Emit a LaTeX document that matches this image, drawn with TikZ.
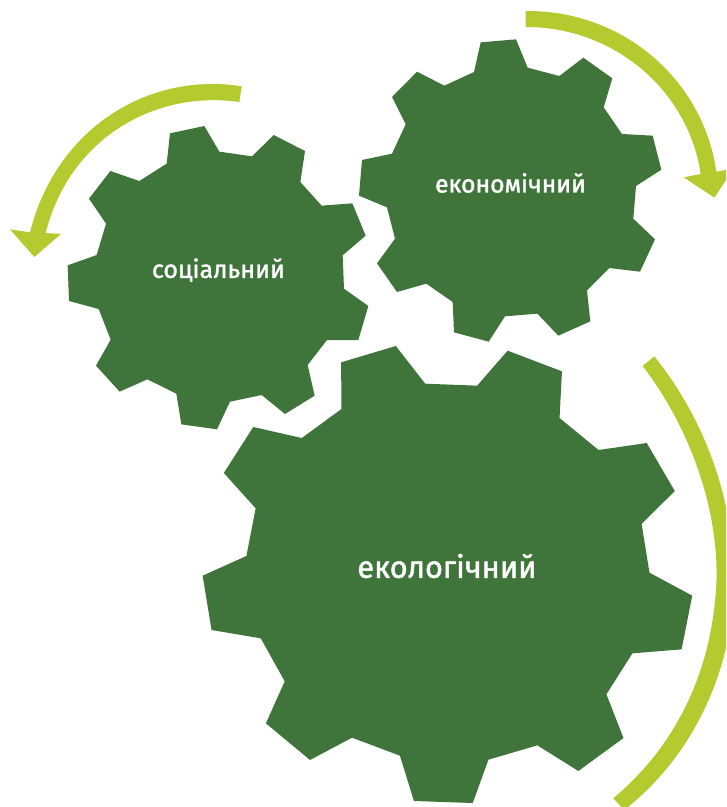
\documentclass[tikz,border=0pt]{standalone}
\usepackage{fontspec}
\setmainfont{Fira Sans}
\newfontfamily\gearfont{Fira Sans}[FakeBold=1.6]
\definecolor{gearg}{HTML}{3F743B}
\definecolor{arrowg}{HTML}{B4CA2E}
\tikzset{
  gear/.style={fill=gearg,draw=none},
  band/.style={fill=arrowg,draw=none},
  gearlabel/.style={text=white,inner sep=0pt,anchor=center}
}
\begin{document}
\begin{tikzpicture}[x=0.75pt,y=-0.75pt]
\useasboundingbox (0,0) rectangle (726,807);
\clip (0,0) rectangle (726,807);
% social gear
\begin{scope}[shift={(0,70)},x=0.25pt,y=-0.25pt]
\fill[gear] (510,190)--(613,168)--(658,245)--(756,259)--(821,195)--(915,243)--(901,336)--(965,407)--(1057,400)--(1097,497)--(1028,556)--(1032,656)--(1105,708)--(1075,810)--(981,810)--(923,885)--(944,977)--(855,1032)--(785,975)--(690,995)--(651,1078)--(544,1063)--(529,971)--(442,928)--(359,965)--(288,887)--(332,809)--(296,717)--(207,693)--(203,586)--(290,555)--(318,461)--(267,386)--(331,303)--(418,333)--(500,281)--cycle;
\fill[band] (725,49) .. controls (450,5) and (170,170) .. (90,487) -- (30,478) -- (103,561) -- (183,492) -- (137,489) .. controls (210,200) and (470,60) .. (718,96) -- cycle;
\end{scope}
% economic gear
\begin{scope}[shift={(350,0)},x=0.25pt,y=-0.25pt]
\fill[gear] (392,127)--(498,118)--(533,203)--(628,228)--(700,173)--(787,235)--(761,322)--(816,402)--(908,407)--(934,509)--(858,558)--(850,656)--(915,718)--(870,815)--(778,804)--(711,871)--(721,964)--(625,1007)--(562,941)--(465,949)--(416,1025)--(312,997)--(308,906)--(229,851)--(141,876)--(81,790)--(135,716)--(111,622)--(27,587)--(36,480)--(126,461)--(167,373)--(126,291)--(201,215)--(283,257)--(372,216)--cycle;
\fill[band] (527,33) .. controls (820,30) and (1060,240) .. (1099,515) -- (1128,510) -- (1128,540) -- (1093,593) -- (1001,532) -- (1052,522) .. controls (1015,270) and (790,80) .. (527,81) -- cycle;
\end{scope}
% ecological gear
\begin{scope}[shift={(190,340)},x=0.25641pt,y=-0.25pt]
\fill[gear] (442,67)--(602,18)--(688,131)--(840,137)--(929,32)--(1088,94)--(1081,234)--(1195,330)--(1336,309)--(1418,453)--(1321,552)--(1344,698)--(1469,767)--(1438,928)--(1294,940)--(1218,1063)--(1268,1194)--(1136,1293)--(1016,1216)--(873,1259)--(827,1389)--(655,1383)--(614,1247)--(474,1193)--(351,1260)--(222,1150)--(277,1024)--(207,895)--(63,870)--(37,707)--(165,648)--(192,505)--(99,399)--(185,261)--(327,294)--(443,207)--cycle;
\fill[band] (1358,49) .. controls (1500,230) and (1600,480) .. (1590,760) .. controls (1580,1000) and (1470,1250) .. (1270,1410) -- (1238,1375) .. controls (1430,1210) and (1530,980) .. (1540,720) .. controls (1545,500) and (1460,260) .. (1324,78) -- cycle;
\end{scope}
\node[gearlabel,font=\gearfont\fontsize{18.7pt}{20pt}\selectfont] (soc) at (218.5,270) {соціальний};
\node[gearlabel,font=\gearfont\fontsize{18.5pt}{20pt}\selectfont] (eco) at (510.5,183) {економічний};
\node[gearlabel,font=\gearfont\fontsize{23pt}{25pt}\selectfont] (env) at (447,566) {екологічний};
\end{tikzpicture}
\end{document}
